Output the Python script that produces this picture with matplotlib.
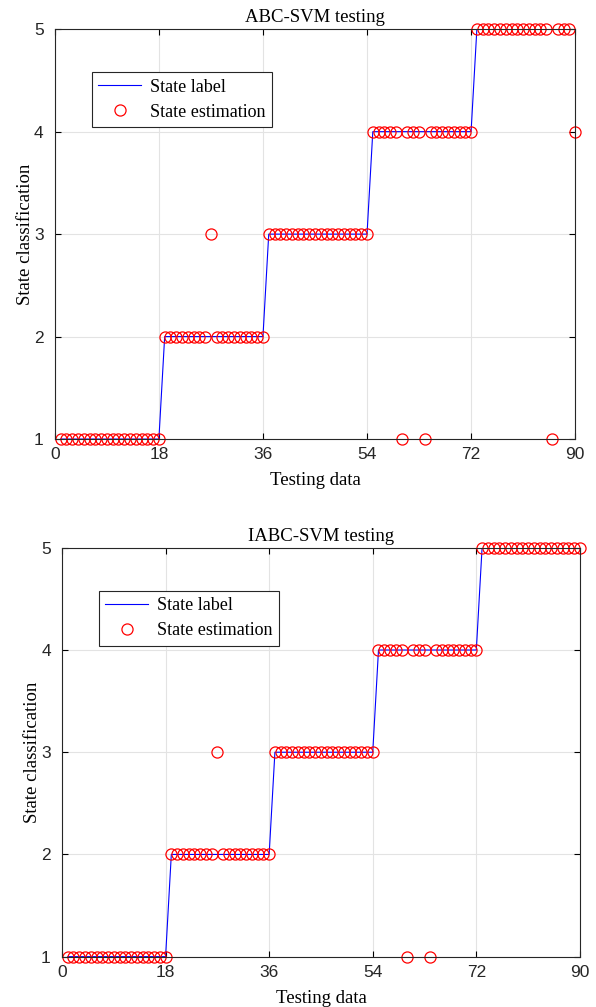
import matplotlib.pyplot as plt
import numpy as np

# testing sample index and true state label
idx = list(range(1, 91))
label = [1] * 18 + [2] * 18 + [3] * 18 + [4] * 18 + [5] * 18

# ABC-SVM estimates (misclassified samples: 27, 60, 64, 86, 90)
est_abc = list(label)
est_abc[27 - 1] = 3
est_abc[60 - 1] = 1
est_abc[64 - 1] = 1
est_abc[86 - 1] = 1
est_abc[90 - 1] = 4

# IABC-SVM estimates (misclassified samples: 27, 60, 64)
est_iabc = list(label)
est_iabc[27 - 1] = 3
est_iabc[60 - 1] = 1
est_iabc[64 - 1] = 1

xticks = [0, 18, 36, 54, 72, 90]
yticks = [1, 2, 3, 4, 5]

serif = 'Liberation Serif'
sans = 'Liberation Sans'

fig = plt.figure(figsize=(5.96, 10.07), dpi=100)
ax1 = fig.add_axes([0.092, 0.564, 0.873, 0.407])
ax2 = fig.add_axes([0.104, 0.050, 0.869, 0.406])

for ax, est, title in [(ax1, est_abc, 'ABC-SVM testing'), (ax2, est_iabc, 'IABC-SVM testing')]:
    ax.plot(idx, label, color='blue', lw=0.8, label='State label')
    ax.plot(idx, est, 'o', mfc='none', mec='red', ms=8, mew=0.9, clip_on=False,
            label='State estimation')
    ax.set_xlim(0, 90)
    ax.set_ylim(1, 5)
    ax.set_xticks(xticks)
    ax.set_yticks(yticks)
    ax.grid(True, color='#e3e3e3', lw=0.8)
    ax.set_axisbelow(True)
    ax.tick_params(direction='in', top=True, right=True, length=4, labelsize=12.5)
    ax.tick_params(axis='x', pad=6)
    ax.tick_params(axis='y', pad=8)
    for t in ax.get_xticklabels() + ax.get_yticklabels():
        t.set_fontfamily(sans)
        t.set_color('#262626')
    for s in ax.spines.values():
        s.set_linewidth(0.8)
        s.set_color('#262626')
    ax.set_title(title, fontfamily=serif, fontsize=13.5, pad=5)
    ax.set_xlabel('Testing data', fontfamily=serif, fontsize=13.5, labelpad=7)
    ax.set_ylabel('State classification', fontfamily=serif, fontsize=13.5, labelpad=0)
    leg = ax.legend(loc='upper left', bbox_to_anchor=(0.071, 0.895), borderaxespad=0,
                    fancybox=False, edgecolor='#262626', framealpha=1, borderpad=0.35,
                    handlelength=2.4, handletextpad=0.5,
                    prop={'family': serif, 'size': 13}, labelspacing=0.45)
    leg.get_frame().set_linewidth(0.8)

fig.savefig('out.png', dpi=100)
